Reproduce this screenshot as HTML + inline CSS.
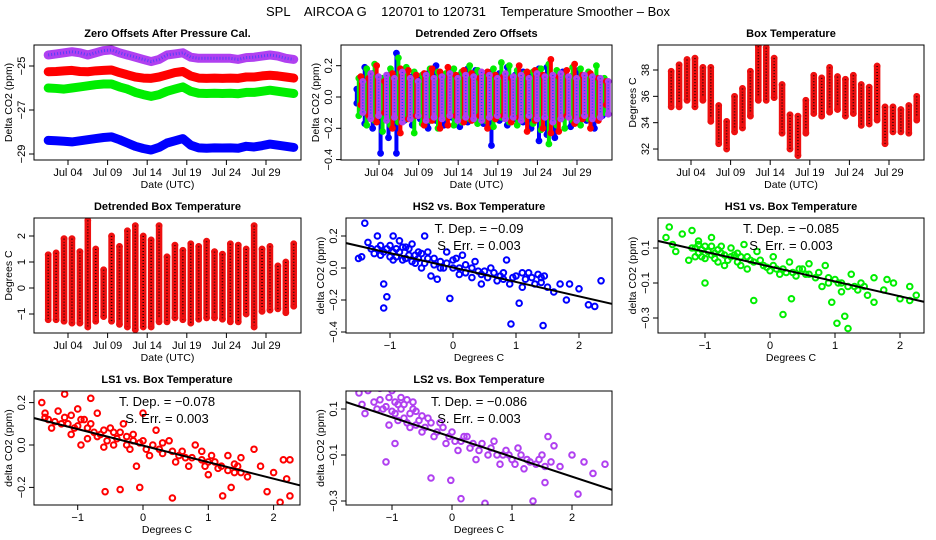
<!DOCTYPE html>
<html><head><meta charset="utf-8"><style>
html,body{margin:0;padding:0;background:#fff}
svg{display:block}
text{font-family:"Liberation Sans",sans-serif;fill:#000}
.t{font-weight:bold;font-size:11px}
.tk{font-size:11px}
.lb{font-size:10.5px}
</style></head><body>
<svg id="c" width="936" height="540" viewBox="0 0 936 540">
<rect width="936" height="540" fill="#fff"/>
<text x="468" y="16" text-anchor="middle" font-size="13" style="white-space:pre">SPL    AIRCOA G    120701 to 120731    Temperature Smoother – Box</text>
</svg>
<script>
// ---------- data ----------
const dayTicks=[3,8,13,18,23,28];
const dayTickLabels=["Jul 04","Jul 09","Jul 14","Jul 19","Jul 24","Jul 29"];
const zoPurple=[-24.50,-24.45,-24.4,-24.35,-24.4,-24.5,-24.4,-24.3,-24.27,-24.4,-24.5,-24.6,-24.7,-24.8,-24.7,-24.5,-24.45,-24.4,-24.6,-24.65,-24.65,-24.65,-24.65,-24.65,-24.7,-24.62,-24.6,-24.55,-24.5,-24.55,-24.65,-24.7];
const zoRed=[-25.26,-25.25,-25.22,-25.2,-25.25,-25.26,-25.22,-25.2,-25.18,-25.3,-25.4,-25.5,-25.55,-25.56,-25.5,-25.4,-25.3,-25.25,-25.45,-25.55,-25.56,-25.55,-25.56,-25.55,-25.56,-25.5,-25.5,-25.45,-25.42,-25.45,-25.5,-25.55];
const zoGreen=[-26.0,-26.02,-26.05,-26.0,-25.95,-25.9,-25.85,-25.82,-25.82,-25.95,-26.05,-26.2,-26.3,-26.38,-26.3,-26.15,-26.05,-25.95,-26.15,-26.24,-26.25,-26.24,-26.25,-26.24,-26.26,-26.2,-26.2,-26.15,-26.1,-26.15,-26.2,-26.25];
const zoBlue=[-28.38,-28.4,-28.42,-28.45,-28.4,-28.35,-28.3,-28.25,-28.22,-28.35,-28.5,-28.65,-28.75,-28.82,-28.7,-28.5,-28.4,-28.3,-28.6,-28.72,-28.74,-28.72,-28.73,-28.72,-28.74,-28.65,-28.68,-28.62,-28.55,-28.6,-28.65,-28.7];
const dzPurpleMax=[0.10,0.15,0.13,0.14,0.12,0.16,0.12,0.10,0.14,0.12,0.13,0.15,0.12,0.14,0.13,0.16,0.14,0.12,0.15,0.13,0.14,0.12,0.15,0.13,0.14,0.15,0.13,0.12,0.14,0.13,0.12,0.10];
const dzPurpleMin=[-0.10,-0.14,-0.12,-0.15,-0.13,-0.16,-0.14,-0.12,-0.15,-0.13,-0.14,-0.12,-0.15,-0.13,-0.14,-0.15,-0.13,-0.12,-0.14,-0.13,-0.15,-0.12,-0.14,-0.13,-0.16,-0.14,-0.13,-0.15,-0.12,-0.14,-0.13,-0.11];
const dzRedMax=[0.13,0.12,0.2,0.1,0.15,0.18,0.17,0.14,0.15,0.18,0.16,0.19,0.14,0.17,0.15,0.12,0.16,0.14,0.13,0.12,0.2,0.16,0.17,0.14,0.24,0.13,0.17,0.21,0.14,0.15,0.12,0.1];
const dzRedMin=[-0.05,-0.12,-0.16,-0.1,-0.2,-0.23,-0.14,-0.12,-0.18,-0.15,-0.2,-0.18,-0.12,-0.16,-0.15,-0.12,-0.2,-0.14,-0.12,-0.16,-0.13,-0.22,-0.15,-0.2,-0.23,-0.22,-0.12,-0.17,-0.14,-0.2,-0.15,-0.05];
const dzGreenMax=[0.12,0.18,0.21,0.12,0.18,0.25,0.19,0.16,0.14,0.18,0.16,0.15,0.18,0.16,0.2,0.17,0.14,0.18,0.22,0.2,0.17,0.15,0.16,0.18,0.21,0.17,0.14,0.19,0.18,0.16,0.2,0.12];
const dzGreenMin=[-0.12,-0.18,-0.15,-0.22,-0.18,-0.16,-0.14,-0.23,-0.17,-0.15,-0.2,-0.13,-0.18,-0.16,-0.14,-0.17,-0.15,-0.19,-0.13,-0.16,-0.18,-0.14,-0.17,-0.21,-0.3,-0.18,-0.2,-0.15,-0.18,-0.14,-0.12,-0.1];
const dzBlueMax=[0.05,0.19,0.15,0.12,0.14,0.28,0.16,0.13,0.12,0.15,0.2,0.13,0.16,0.14,0.18,0.17,0.12,0.16,0.15,0.19,0.14,0.16,0.13,0.18,0.19,0.14,0.16,0.13,0.17,0.14,0.12,0.05];
const dzBlueMin=[-0.04,-0.17,-0.2,-0.36,-0.26,-0.36,-0.15,-0.18,-0.14,-0.2,-0.15,-0.18,-0.13,-0.19,-0.16,-0.14,-0.17,-0.31,-0.15,-0.18,-0.14,-0.16,-0.2,-0.28,-0.24,-0.26,-0.14,-0.19,-0.16,-0.15,-0.2,-0.12];
const btMax=[37.9,38.4,38.8,38.9,38.2,38.2,35.3,34.1,36.0,36.6,37.9,39.8,39.7,38.9,36.9,34.6,34.5,35.7,37.6,37.4,38.2,37.5,37.3,37.6,36.9,36.7,38.3,35.2,35.2,35.0,35.3,36.0];
const btMin=[35.2,35.2,35.7,35.2,35.7,34.1,32.4,32.0,33.3,33.6,34.5,35.7,35.7,35.9,33.2,32.0,31.5,33.2,34.7,34.5,34.8,35.0,34.5,34.7,33.8,33.9,34.2,32.4,33.3,33.3,33.2,34.2];
const dbtMax=[1.28,1.35,1.9,1.9,1.4,2.6,1.5,0.7,2.0,1.6,2.2,2.4,2.0,1.85,2.4,1.2,1.65,1.45,1.7,1.6,1.8,1.4,1.3,1.7,1.65,1.5,2.4,1.5,1.6,0.85,1.0,1.7];
const dbtMin=[-1.22,-1.22,-1.28,-1.35,-1.35,-1.5,-1.28,-1.1,-1.28,-1.4,-1.5,-1.6,-1.5,-1.5,-1.3,-1.3,-1.15,-1.22,-1.35,-1.2,-1.15,-1.15,-1.2,-1.3,-1.3,-1.0,-1.5,-0.9,-0.85,-0.8,-0.95,-0.7];
const hs2Pts=[[-1.5,0.06],[-1.45,0.07],[-1.4,0.28],[-1.35,0.16],[-1.3,0.12],[-1.2,0.2],[-1.15,0.14],[-1.1,0.1],[-1.1,-0.1],[-1.05,-0.18],[-1.1,-0.25],[-1.0,0.07],[-0.95,0.2],[-0.9,0.12],[-0.85,0.17],[-0.8,0.05],[-0.75,0.13],[-0.7,0.08],[-0.6,0.03],[-0.55,0.1],[-0.5,0.0],[-0.45,0.2],[-0.4,0.06],[-0.35,-0.05],[-0.3,0.02],[-0.25,-0.07],[-0.2,0.04],[-0.1,0.1],[-0.05,-0.19],[0.0,0.0],[0.05,0.06],[0.1,-0.04],[0.2,0.02],[0.3,-0.06],[0.35,0.04],[0.45,-0.1],[0.5,-0.02],[0.6,0.0],[0.7,-0.08],[0.8,-0.03],[0.85,0.05],[0.9,-0.1],[0.92,-0.35],[1.0,-0.05],[1.05,-0.22],[1.1,-0.12],[1.2,-0.03],[1.3,-0.1],[1.4,-0.06],[1.43,-0.36],[1.5,-0.12],[1.6,-0.15],[1.7,-0.1],[1.8,-0.2],[1.85,-0.1],[2.0,-0.13],[2.15,-0.23],[2.25,-0.24],[2.35,-0.08],[1.45,-0.05],[-0.65,0.15],[0.15,0.08],[-1.25,0.09],[-0.95,0.05],[-0.6,0.08],[-0.15,0.0],[0.4,-0.02],[0.75,-0.05],[1.15,-0.07],[-1.2,0.12],[-1.15,0.08],[-1.05,0.12],[-1.0,0.14],[-0.95,0.1],[-0.9,0.07],[-0.85,0.1],[-0.8,0.13],[-0.75,0.06],[-0.7,0.12],[-0.65,0.04],[-0.55,0.06],[-0.5,0.09],[-0.45,0.03],[-0.4,0.1],[-0.3,0.06],[-0.2,0.0],[-0.1,0.03],[0.0,0.05],[0.1,0.0],[0.2,-0.03],[0.3,0.0],[0.45,-0.04],[0.55,-0.06],[0.65,-0.03],[0.8,-0.07],[0.95,-0.06],[1.1,-0.03],[1.25,-0.06],[1.35,-0.04],[1.4,-0.09]];
const hs1Pts=[[-1.55,0.22],[-1.6,0.16],[-1.5,0.12],[-1.45,0.08],[-1.35,0.18],[-1.2,0.2],[-1.15,0.1],[-1.1,0.14],[-1.05,0.05],[-1.0,-0.1],[-1.0,0.11],[-0.9,0.16],[-0.85,0.04],[-0.8,0.09],[-0.7,0.0],[-0.6,0.1],[-0.55,0.06],[-0.4,0.12],[-0.35,-0.02],[-0.3,0.03],[-0.25,-0.2],[-0.2,0.08],[-0.1,0.0],[0.0,-0.03],[0.05,0.05],[0.15,-0.05],[0.2,-0.28],[0.3,0.02],[0.33,-0.19],[0.4,-0.06],[0.5,-0.02],[0.6,0.01],[0.7,-0.07],[0.8,-0.12],[0.85,0.0],[0.9,-0.1],[0.95,-0.21],[1.0,-0.08],[1.03,-0.33],[1.1,-0.15],[1.15,-0.29],[1.2,-0.36],[1.25,-0.05],[1.3,-0.12],[1.4,-0.1],[1.5,-0.17],[1.6,-0.07],[1.6,-0.21],[1.75,-0.14],[1.8,-0.08],[1.9,-0.1],[2.0,-0.19],[2.15,-0.2],[2.15,-0.12],[2.25,-0.17],[-0.75,0.07],[-0.45,0.05],[0.25,-0.04],[-1.25,0.03],[-1.1,0.07],[-0.9,0.06],[-0.5,0.02],[0.1,-0.02],[0.55,-0.05],[1.05,-0.1],[-1.2,0.1],[-1.15,0.05],[-1.1,0.12],[-1.05,0.09],[-1.0,0.04],[-0.95,0.08],[-0.9,0.11],[-0.85,0.07],[-0.8,0.02],[-0.75,0.11],[-0.7,0.06],[-0.65,0.03],[-0.6,0.05],[-0.5,0.07],[-0.45,0.0],[-0.35,0.05],[-0.25,0.02],[-0.15,0.03],[-0.05,-0.01],[0.05,0.0],[0.2,-0.02],[0.35,-0.04],[0.45,-0.02],[0.6,-0.05],[0.75,-0.04],[0.9,-0.07],[1.1,-0.1],[1.2,-0.12],[1.35,-0.14],[1.45,-0.12]];
const ls1Pts=[[-1.55,0.2],[-1.5,0.15],[-1.45,0.12],[-1.4,0.08],[-1.3,0.16],[-1.2,0.24],[-1.15,0.1],[-1.1,0.05],[-1.0,0.17],[-0.95,0.0],[-0.9,0.12],[-0.8,0.22],[-0.75,0.06],[-0.7,0.15],[-0.6,-0.01],[-0.58,-0.22],[-0.5,0.08],[-0.4,0.03],[-0.35,-0.21],[-0.3,0.1],[-0.2,-0.02],[-0.15,0.05],[-0.1,-0.1],[-0.05,-0.2],[0.0,0.15],[0.0,0.02],[0.1,-0.05],[0.2,0.07],[0.3,-0.04],[0.4,0.02],[0.45,-0.25],[0.5,-0.08],[0.6,-0.03],[0.7,-0.1],[0.8,0.0],[0.9,-0.07],[1.0,-0.14],[1.05,-0.05],[1.2,-0.1],[1.22,-0.24],[1.3,-0.05],[1.35,-0.2],[1.4,-0.13],[1.5,-0.06],[1.6,-0.15],[1.7,-0.02],[1.8,-0.1],[1.9,-0.22],[2.0,-0.13],[2.1,-0.27],[2.15,-0.07],[2.2,-0.16],[2.25,-0.07],[2.25,-0.24],[-0.85,0.08],[-0.25,0.04],[0.65,-0.06],[1.1,-0.08],[-1.25,0.1],[-1.05,0.08],[-0.65,0.05],[-0.45,0.06],[0.25,-0.02],[0.95,-0.1],[1.45,-0.1],[-1.5,0.13],[-1.35,0.11],[-1.2,0.13],[-1.1,0.14],[-1.0,0.09],[-0.95,0.12],[-0.85,0.03],[-0.8,0.1],[-0.7,0.04],[-0.6,0.07],[-0.55,0.02],[-0.45,0.0],[-0.35,0.06],[-0.25,0.0],[-0.15,0.02],[-0.05,0.01],[0.05,-0.02],[0.15,0.0],[0.3,0.01],[0.45,-0.03],[0.55,-0.05],[0.75,-0.06],[0.9,-0.03],[1.0,-0.08],[1.15,-0.11],[1.3,-0.12],[1.4,-0.09],[1.5,-0.13]];
const ls2Pts=[[-1.55,0.17],[-1.5,0.12],[-1.45,0.08],[-1.4,0.18],[-1.3,0.13],[-1.2,0.19],[-1.15,0.1],[-1.1,-0.13],[-1.05,0.03],[-1.0,0.18],[-0.95,-0.05],[-0.9,0.12],[-0.8,0.06],[-0.75,0.14],[-0.7,0.02],[-0.6,0.09],[-0.5,0.0],[-0.4,0.06],[-0.35,-0.2],[-0.3,-0.02],[-0.2,0.04],[-0.1,-0.05],[-0.02,-0.21],[0.0,0.0],[0.1,-0.08],[0.15,-0.29],[0.2,-0.02],[0.3,-0.07],[0.4,-0.12],[0.5,-0.05],[0.55,-0.31],[0.6,-0.1],[0.7,-0.04],[0.8,-0.14],[0.9,-0.08],[1.0,-0.12],[1.1,-0.07],[1.2,-0.16],[1.3,-0.34],[1.35,-0.3],[1.4,-0.14],[1.5,-0.1],[1.55,-0.22],[1.6,-0.02],[1.7,-0.06],[1.8,-0.15],[2.0,-0.1],[2.1,-0.27],[2.2,-0.13],[2.35,-0.18],[2.55,-0.14],[-0.85,0.15],[-0.65,0.1],[0.25,-0.02],[1.65,-0.13],[-1.25,0.1],[-0.95,0.08],[-0.55,0.05],[0.05,-0.04],[0.85,-0.1],[1.25,-0.12],[-1.2,0.14],[-1.1,0.11],[-1.05,0.15],[-1.0,0.09],[-0.95,0.13],[-0.9,0.05],[-0.85,0.1],[-0.8,0.12],[-0.75,0.04],[-0.7,0.08],[-0.65,0.13],[-0.6,0.03],[-0.5,0.07],[-0.45,0.02],[-0.35,0.04],[-0.25,0.0],[-0.15,0.02],[-0.05,-0.02],[0.15,-0.04],[0.35,-0.05],[0.45,-0.08],[0.65,-0.07],[0.75,-0.1],[0.95,-0.1],[1.05,-0.14],[1.15,-0.1],[1.3,-0.13],[1.45,-0.12],[1.55,-0.15]];
const fitSlopes=[-0.09,-0.085,-0.078,-0.086];
const fitIntercepts=[0.003,-0.006,-0.003,-0.022];
const fitErrs=["0.003","0.003","0.003","0.003"];
const slopeLabels=["−0.09","−0.085","−0.078","−0.086"];

// ---------- drawing ----------
const NS='http://www.w3.org/2000/svg';
const svg=document.getElementById('c');
function el(tag,parent){const e=document.createElementNS(NS,tag);parent.appendChild(e);return e;}
function at(e,o){for(const k in o)e.setAttribute(k,o[k]);return e;}

function panel(cfg){
  const g=el('g',svg);
  
  
  const X=v=>cfg.x0+(v-cfg.xv)*cfg.xk, Y=v=>cfg.y0+(v-cfg.yv)*cfg.yk;
  const b=cfg.box;
  const clip=el('clipPath',g); at(clip,{id:'clip-'+cfg.name});
  at(el('rect',clip),{x:b[0],y:b[1],width:b[2]-b[0],height:b[3]-b[1]});
  const data=el('g',g); at(data,{'clip-path':'url(#clip-'+cfg.name+')'});
  
  
  const t=el('text',g); at(t,{x:(b[0]+b[2])/2,y:b[1]-8,'text-anchor':'middle',class:'t'}); t.textContent=cfg.title;
  
  
  const xa=el('g',g);
  
  
  const xs=cfg.xt.map(X);
  at(el('line',xa),{x1:xs[0],x2:xs[xs.length-1],y1:b[3],y2:b[3],stroke:'#000'});
  cfg.xt.forEach((v,i)=>{
    at(el('line',xa),{x1:X(v),x2:X(v),y1:b[3],y2:b[3]+5,stroke:'#000'});
    const tx=el('text',xa); at(tx,{x:X(v),y:b[3]+16,'text-anchor':'middle',class:'tk'}); tx.textContent=cfg.xl[i];
  });
  const xt=el('text',g); at(xt,{x:(b[0]+b[2])/2,y:b[3]+28,'text-anchor':'middle',class:'lb'}); xt.textContent=cfg.xlab;
  
  
  const ya=el('g',g);
  
  
  const ys=cfg.yt.map(Y);
  at(el('line',ya),{x1:b[0],x2:b[0],y1:ys[0],y2:ys[ys.length-1],stroke:'#000'});
  cfg.yt.forEach((v,i)=>{
    at(el('line',ya),{x1:b[0]-5,x2:b[0],y1:Y(v),y2:Y(v),stroke:'#000'});
    const tx=el('text',ya); at(tx,{x:b[0]-9,y:Y(v),'text-anchor':'middle',class:'tk',transform:`rotate(-90 ${b[0]-9} ${Y(v)})`}); tx.textContent=cfg.yl[i];
  });
  const yt=el('text',g); const yx=b[0]-22, yy=(b[1]+b[3])/2;
  at(yt,{x:yx,y:yy,'text-anchor':'middle',class:'lb',transform:`rotate(-90 ${yx} ${yy})`}); yt.textContent=cfg.ylab;
  
  
  return {g,data,X,Y,b,after(){at(el('rect',g),{x:b[0],y:b[1],width:b[2]-b[0],height:b[3]-b[1],fill:'none',stroke:'#000'});}};
}

function band(p,arr,color,dot,name){
  const pts=arr.map((v,i)=>p.X(i+0.5)+','+p.Y(v)).join(' ');
  const pl=el('polyline',p.data); at(pl,{points:pts,fill:'none',stroke:color,'stroke-width':9,'stroke-linejoin':'round','stroke-linecap':'round'});
  
  
  const d=el('polyline',p.data); at(d,{points:pts,fill:'none',stroke:dot,'stroke-width':3,'stroke-dasharray':'1 2',opacity:0.6});
}
function cols(p,mx,mn,color,w,off,name,dark){
  mx.forEach((v,i)=>{
    const x=p.X(i+off);
    const l=el('line',p.data); at(l,{x1:x,x2:x,y1:p.Y(v),y2:p.Y(mn[i]),stroke:color,'stroke-width':w,'stroke-linecap':'round'});
    
    
    if(dark){const d=el('line',p.data); at(d,{x1:x,x2:x,y1:p.Y(v),y2:p.Y(mn[i]),stroke:dark,'stroke-width':1.5,'stroke-dasharray':'1 2'});}
    [v,mn[i]].forEach(y=>{const c=el('circle',p.data); at(c,{cx:x,cy:p.Y(y),r:2.6,fill:'none',stroke:color,'stroke-width':1.6});});
  });
}
function scatter(p,pts,color,k,name){
  pts.forEach(q=>{
    const c=el('circle',p.data); at(c,{cx:p.X(q[0]),cy:p.Y(q[1]),r:2.8,fill:'none',stroke:color,'stroke-width':2});
    
    
  });
  const x1=-3,x2=3;
  const ln=el('line',p.data); at(ln,{x1:p.X(x1),x2:p.X(x2),y1:p.Y(fitIntercepts[k]+fitSlopes[k]*x1),y2:p.Y(fitIntercepts[k]+fitSlopes[k]*x2),stroke:'#000','stroke-width':2});
  
  
  const cx=(p.b[0]+p.b[2])/2;
  const t1=el('text',p.g); at(t1,{x:cx,y:p.b[1]+15,'text-anchor':'middle','font-size':13}); t1.textContent='T. Dep. =  '+slopeLabels[k];
  
  
  const t2=el('text',p.g); at(t2,{x:cx,y:p.b[1]+32,'text-anchor':'middle','font-size':13}); t2.textContent='S. Err. =  '+fitErrs[k];
  
  
}

let p=panel({name:'zero-offsets-panel',title:'Zero Offsets After Pressure Cal.',box:[34,45,301,160],x0:68,xv:3,xk:7.92,y0:66,yv:-25,yk:-22,xt:dayTicks,xl:dayTickLabels,yt:[-25,-27,-29],yl:['−25','−27','−29'],xlab:'Date (UTC)',ylab:'Delta CO2 (ppm)'});
band(p,zoPurple,'#b040f0','#2040ff','purple-series');
band(p,zoRed,'#ff0000','#ff0000','red-series');
band(p,zoGreen,'#00ee00','#00ee00','green-series');
band(p,zoBlue,'#0000ff','#0000ff','blue-series');
p.after();
p=panel({name:'detrended-zero-offsets-panel',title:'Detrended Zero Offsets',box:[341,45,612,160],x0:379,xv:3,xk:7.92,y0:97,yv:0,yk:-156.5,xt:dayTicks,xl:dayTickLabels,yt:[0.2,0,-0.2,-0.4],yl:['0.2','0.0','−0.2','−0.4'],xlab:'Date (UTC)',ylab:'Delta CO2 (ppm)'});
cols(p,dzBlueMax,dzBlueMin,'#0000ff',4,0.2,'blue-series');
cols(p,dzGreenMax,dzGreenMin,'#00ee00',4,0.45,'green-series');
cols(p,dzRedMax,dzRedMin,'#ff0000',4,0.7,'red-series');
cols(p,dzPurpleMax,dzPurpleMin,'#b040f0',5,0.95,'purple-series','#2040ff');
p.after();
p=panel({name:'box-temperature-panel',title:'Box Temperature',box:[658,45,924,160],x0:691,xv:3,xk:7.92,y0:70,yv:38,yk:-13.17,xt:dayTicks,xl:dayTickLabels,yt:[32,34,36,38],yl:['32','34','36','38'],xlab:'Date (UTC)',ylab:'Degrees C'});
cols(p,btMax,btMin,'#ee1010',6.5,0.5,'box-temperature-series','#300000');
p.after();
p=panel({name:'detrended-box-temperature-panel',title:'Detrended Box Temperature',box:[34,218,301,333],x0:68,xv:3,xk:7.92,y0:288,yv:0,yk:-26,xt:dayTicks,xl:dayTickLabels,yt:[-1,0,1,2],yl:['−1','0','1','2'],xlab:'Date (UTC)',ylab:'Degrees C'});
cols(p,dbtMax,dbtMin,'#ee1010',6.5,0.5,'detrended-temperature-series','#300000');
p.after();
p=panel({name:'hs2-scatter-panel',title:'HS2 vs. Box Temperature',box:[346,218,612,333],x0:453,xv:0,xk:63,y0:268,yv:0,yk:-160,xt:[-1,0,1,2],xl:['−1','0','1','2'],yt:[0.2,0,-0.2,-0.4],yl:['0.2','0.0','−0.2','−0.4'],xlab:'Degrees C',ylab:'delta CO2 (ppm)'});
scatter(p,hs2Pts,'#0000ff',0,'hs2-points');
p.after();
p=panel({name:'hs1-scatter-panel',title:'HS1 vs. Box Temperature',box:[658,218,924,333],x0:770,xv:0,xk:65,y0:265.5,yv:0,yk:-175,xt:[-1,0,1,2],xl:['−1','0','1','2'],yt:[0.1,-0.1,-0.3],yl:['0.1','−0.1','−0.3'],xlab:'Degrees C',ylab:'delta CO2 (ppm)'});
scatter(p,hs1Pts,'#00ee00',1,'hs1-points');
p.after();
p=panel({name:'ls1-scatter-panel',title:'LS1 vs. Box Temperature',box:[34,391,300,505],x0:143,xv:0,xk:65.3,y0:445,yv:0,yk:-212,xt:[-1,0,1,2],xl:['−1','0','1','2'],yt:[0.2,0,-0.2],yl:['0.2','0.0','−0.2'],xlab:'Degrees C',ylab:'delta CO2 (ppm)'});
scatter(p,ls1Pts,'#ff0000',2,'ls1-points');
p.after();
p=panel({name:'ls2-scatter-panel',title:'LS2 vs. Box Temperature',box:[346,391,612,505],x0:452,xv:0,xk:60,y0:432,yv:0,yk:-230,xt:[-1,0,1,2],xl:['−1','0','1','2'],yt:[0.1,-0.1,-0.3],yl:['0.1','−0.1','−0.3'],xlab:'Degrees C',ylab:'delta CO2 (ppm)'});
scatter(p,ls2Pts,'#b040f0',3,'ls2-points');
p.after();
</script>
</body></html>
